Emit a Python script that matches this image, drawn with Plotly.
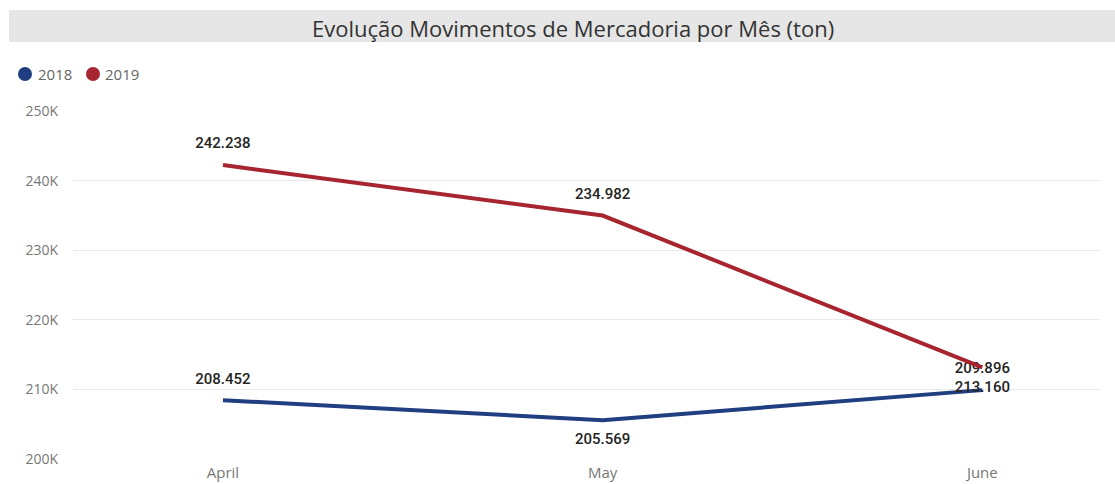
import plotly.graph_objects as go

months = ["April", "May", "June"]
values_2018 = [208452, 205569, 209896]
values_2019 = [242238, 234982, 213160]
labels_2018 = ["208.452", "205.569", "209.896"]
labels_2019 = ["242.238", "234.982", "213.160"]
y_ticks = [200000, 210000, 220000, 230000, 240000, 250000]
y_tick_labels = ["200K", "210K", "220K", "230K", "240K", "250K"]
series_names = ["2018", "2019"]

c2018 = "#1F3F80"
c2019 = "#A6252F"
colors = [c2018, c2019]

L, R, T, B = 73, 15, 111, 25
W, H = 1115, 484
pw, ph = W - L - R, H - T - B


def px_x(x):
    return (x - L) / pw


def px_y(y):
    return (H - B - y) / ph


label_font = dict(family="Roboto", size=15, color="#252423", weight=500)

fig = go.Figure()
fig.add_trace(go.Scatter(
    x=months, y=values_2018, mode="lines+markers+text", name="2018",
    line=dict(color=c2018, width=4),
    marker=dict(size=19, color="rgba(0,0,0,0)"),
    text=labels_2018, textposition=["top center", "bottom center", "top center"],
    textfont=label_font, showlegend=False, cliponaxis=False, hoverinfo="skip"))
fig.add_trace(go.Scatter(
    x=months, y=values_2019, mode="lines+markers+text", name="2019",
    line=dict(color=c2019, width=4),
    marker=dict(size=19, color="rgba(0,0,0,0)"),
    text=labels_2019, textposition=["top center", "top center", "bottom center"],
    textfont=label_font, showlegend=False, cliponaxis=False, hoverinfo="skip"))

shapes = [dict(type="rect", xref="paper", yref="paper",
               x0=px_x(9), x1=px_x(1115), y0=px_y(42), y1=px_y(10),
               fillcolor="#E6E6E6", line=dict(width=0), layer="below")]
annotations = [dict(text="Evolução Movimentos de Mercadoria por Mês (ton)",
                    xref="paper", yref="paper", x=px_x(573), y=px_y(28),
                    xanchor="center", yanchor="middle", showarrow=False,
                    font=dict(family="Open Sans, Noto Sans", size=22, color="#333333"))]
legend_circle_x = [25, 93]
legend_text_x = [36, 103]
for name, col, cx, tx in zip(series_names, colors, legend_circle_x, legend_text_x):
    shapes.append(dict(type="circle", xref="paper", yref="paper",
                       xsizemode="pixel", ysizemode="pixel",
                       xanchor=px_x(cx), yanchor=px_y(74),
                       x0=-7, x1=7, y0=-7, y1=7,
                       fillcolor=col, line=dict(width=0)))
    annotations.append(dict(text=name, xref="paper", yref="paper",
                            x=px_x(tx), y=px_y(74), xanchor="left", yanchor="middle",
                            showarrow=False,
                            font=dict(family="Open Sans, Noto Sans", size=15, color="#666666")))

fig.update_layout(
    width=W, height=H,
    margin=dict(l=L, r=R, t=T, b=B, autoexpand=False),
    paper_bgcolor="white", plot_bgcolor="white",
    font=dict(family="Open Sans, Noto Sans", color="#777777"),
    showlegend=False,
    xaxis=dict(type="category", range=[-0.395, 2.31], showgrid=False,
               zeroline=False, showline=False, ticks="", automargin=False,
               ticklabelstandoff=3,
               tickfont=dict(size=15, color="#777777")),
    yaxis=dict(range=[200000, 250000], tickvals=y_ticks, ticktext=y_tick_labels,
               showgrid=True, gridcolor="#E9E9E9", gridwidth=1, zeroline=False,
               showline=False, ticks="", ticklabelstandoff=14, automargin=False,
               tickfont=dict(size=14, color="#777777")),
    shapes=shapes,
    annotations=annotations,
)

fig.write_html("out.html", config={"displayModeBar": False},
               post_script="document.body.style.margin='0';document.body.style.padding='0';")
